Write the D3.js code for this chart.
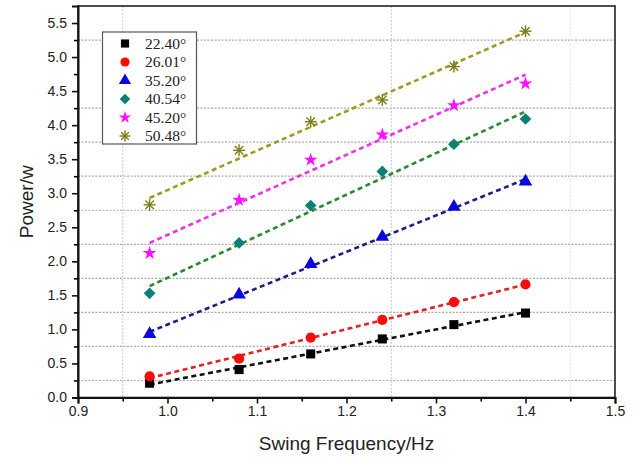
<!DOCTYPE html>
<html>
<head>
<meta charset="utf-8">
<script src="https://cdn.jsdelivr.net/npm/d3@7"></script>
<style>
  body { margin: 0; background: #fff; }
  svg { display: block; }
</style>
</head>
<body>
<div id="chart"></div>
<script>
const freq = [0.98, 1.08, 1.16, 1.24, 1.32, 1.40];
const angles = ["22.40°", "26.01°", "35.20°", "40.54°", "45.20°", "50.48°"];
const p2240 = [0.21, 0.41, 0.64, 0.86, 1.07, 1.24];
const p2601 = [0.31, 0.57, 0.88, 1.14, 1.40, 1.66];
const p3520 = [0.93, 1.51, 1.96, 2.36, 2.80, 3.17];
const p4054 = [1.53, 2.27, 2.82, 3.32, 3.72, 4.09];
const p4520 = [2.12, 2.90, 3.49, 3.86, 4.29, 4.61];
const p5048 = [2.83, 3.63, 4.05, 4.37, 4.86, 5.38];
const xTicks = [0.9, 1.0, 1.1, 1.2, 1.3, 1.4, 1.5];
const yTicks = [0, 0.5, 1, 1.5, 2, 2.5, 3, 3.5, 4, 4.5, 5, 5.5];
const yGrid = [0.25, 0.75, 1.25, 1.75, 2.25, 2.75, 3.25, 3.75, 4.25, 5.25];
const xGrid = [0.95, 1.25, 1.45];

const series = [
  { name: angles[0], values: p2240, shape: "square", fill: "#000000", line: "#111111" },
  { name: angles[1], values: p2601, shape: "circle", fill: "#ff0a0a", line: "#e02424" },
  { name: angles[2], values: p3520, shape: "triangle", fill: "#0808dd", line: "#1e1e88" },
  { name: angles[3], values: p4054, shape: "diamond", fill: "#0b8078", line: "#2a8a30" },
  { name: angles[4], values: p4520, shape: "star", fill: "#ff10ff", line: "#f030f0" },
  { name: angles[5], values: p5048, shape: "asterisk", fill: "#7d7d1a", line: "#9c9c22" }
];

const margin = { top: 6, right: 21, bottom: 65.5, left: 78 };
const width = 636 - margin.left - margin.right;
const height = 463 - margin.top - margin.bottom;

const svg = d3.select("#chart")
  .append("svg")
  .attr("width", 636)
  .attr("height", 463)
  .append("g")
  .attr("transform", `translate(${margin.left},${margin.top})`);

const x = d3.scaleLinear().domain([0.9, 1.5]).range([0, width]);
const y = d3.scaleLinear().domain([0, 5.75]).range([height, 0]);

// dotted grid
svg.append("g").selectAll("line")
  .data(yGrid)
  .join("line")
  .attr("x1", 0).attr("x2", width)
  .attr("y1", d => y(d)).attr("y2", d => y(d))
  .attr("stroke", "#aaaaaa")
  .attr("stroke-width", 1.2)
  .attr("stroke-dasharray", "2,1.5");

svg.append("g").selectAll("line")
  .data(xGrid)
  .join("line")
  .attr("x1", d => x(d)).attr("x2", d => x(d))
  .attr("y1", 0).attr("y2", height)
  .attr("stroke", d => d === 1.45 ? "#e4e4e4" : "#c4c4c4")
  .attr("stroke-width", 1)
  .attr("stroke-dasharray", "2,1.5");

// frame
svg.append("rect")
  .attr("width", width)
  .attr("height", height)
  .attr("fill", "none")
  .attr("stroke", "#222")
  .attr("stroke-width", 1.6);

// minor ticks
svg.append("g")
  .attr("transform", `translate(0,${height})`)
  .call(d3.axisBottom(x).tickValues(d3.range(0.95, 1.5, 0.1)).tickSize(4).tickFormat(""))
  .call(g => g.select(".domain").remove())
  .selectAll("line").attr("stroke-width", 1.6);

svg.append("g")
  .call(d3.axisLeft(y).tickValues(d3.range(0.25, 5.75, 0.5)).tickSize(4).tickFormat(""))
  .call(g => g.select(".domain").remove())
  .selectAll("line").attr("stroke-width", 1.6);

const xAxis = svg.append("g")
  .attr("transform", `translate(0,${height})`)
  .call(d3.axisBottom(x).tickValues(xTicks).tickSize(6).tickPadding(3).tickFormat(d3.format(".1f")));

const yAxis = svg.append("g")
  .call(d3.axisLeft(y).tickValues(yTicks).tickSize(6).tickPadding(5).tickFormat(d3.format(".1f")));

[xAxis, yAxis].forEach(a => {
  a.select(".domain").attr("stroke-width", 2).attr("stroke", "#111");
  a.selectAll(".tick line").attr("stroke-width", 1.6).attr("stroke", "#111");
  a.selectAll("text")
    .attr("font-family", "Liberation Sans, Arial, sans-serif")
    .attr("font-size", 14)
    .attr("fill", "#222");
});

// linear fits
function fit(vals) {
  const mx = d3.mean(freq), my = d3.mean(vals);
  const sxy = d3.sum(freq, (f, i) => (f - mx) * (vals[i] - my));
  const sxx = d3.sum(freq, f => (f - mx) * (f - mx));
  const b = sxy / sxx;
  return f => my + b * (f - mx);
}

const line = d3.line().x(d => x(d[0])).y(d => y(d[1]));

series.forEach(s => {
  const f = fit(s.values);
  const ends = [freq[0], freq[freq.length - 1]];
  svg.append("path")
    .datum(ends.map(v => [v, f(v)]))
    .attr("d", line)
    .attr("fill", "none")
    .attr("stroke", s.line)
    .attr("stroke-width", 2.6)
    .attr("stroke-dasharray", "5,3.5");
});

function marker(g, shape, color, k) {
  if (shape === "asterisk") {
    const r = 6 * k;
    [0, 45, 90, 135].forEach(a => {
      const t = a * Math.PI / 180;
      g.append("line")
        .attr("x1", -r * Math.cos(t)).attr("y1", -r * Math.sin(t))
        .attr("x2", r * Math.cos(t)).attr("y2", r * Math.sin(t))
        .attr("stroke", color).attr("stroke-width", 1.4);
    });
    return;
  }
  const types = {
    square: [d3.symbolSquare, 82],
    circle: [d3.symbolCircle, 82],
    triangle: [d3.symbolTriangle, 80],
    diamond: [d3.symbolSquare, 68],
    star: [d3.symbolStar, 58]
  };
  const t = types[shape];
  g.append("path")
    .attr("d", d3.symbol().type(t[0]).size(t[1] * k * k)())
    .attr("transform", shape === "diamond" ? "rotate(45)" : null)
    .attr("fill", color);
}

series.forEach(s => {
  svg.append("g").selectAll("g")
    .data(s.values)
    .join("g")
    .attr("transform", (d, i) => `translate(${x(freq[i])},${y(d)})`)
    .each(function() { marker(d3.select(this), s.shape, s.fill, 1); });
});

// legend
const legend = svg.append("g").attr("transform", "translate(24.5,26)");
legend.append("rect")
  .attr("width", 94)
  .attr("height", 112)
  .attr("fill", "#fff")
  .attr("stroke", "#555")
  .attr("stroke-width", 1.2);

series.forEach((s, i) => {
  const row = legend.append("g").attr("transform", `translate(0,${11.5 + i * 18.5})`);
  const m = row.append("g").attr("transform", "translate(22.5,0)");
  marker(m, s.shape, s.fill, 0.9);
  row.append("text")
    .attr("x", 42.5)
    .attr("y", 5)
    .attr("font-family", "Liberation Serif, Times New Roman, serif")
    .attr("font-size", 15.5)
    .attr("fill", "#222")
    .text(s.name);
});

svg.append("text")
  .attr("x", width / 2)
  .attr("y", height + 52)
  .attr("text-anchor", "middle")
  .attr("font-family", "Liberation Sans, Arial, sans-serif")
  .attr("font-size", 19)
  .attr("fill", "#222")
  .text("Swing Frequency/Hz");

svg.append("text")
  .attr("x", -height / 2)
  .attr("y", -45)
  .attr("transform", "rotate(-90)")
  .attr("text-anchor", "middle")
  .attr("font-family", "Liberation Sans, Arial, sans-serif")
  .attr("font-size", 19)
  .attr("fill", "#222")
  .text("Power/w");
</script>
</body>
</html>
